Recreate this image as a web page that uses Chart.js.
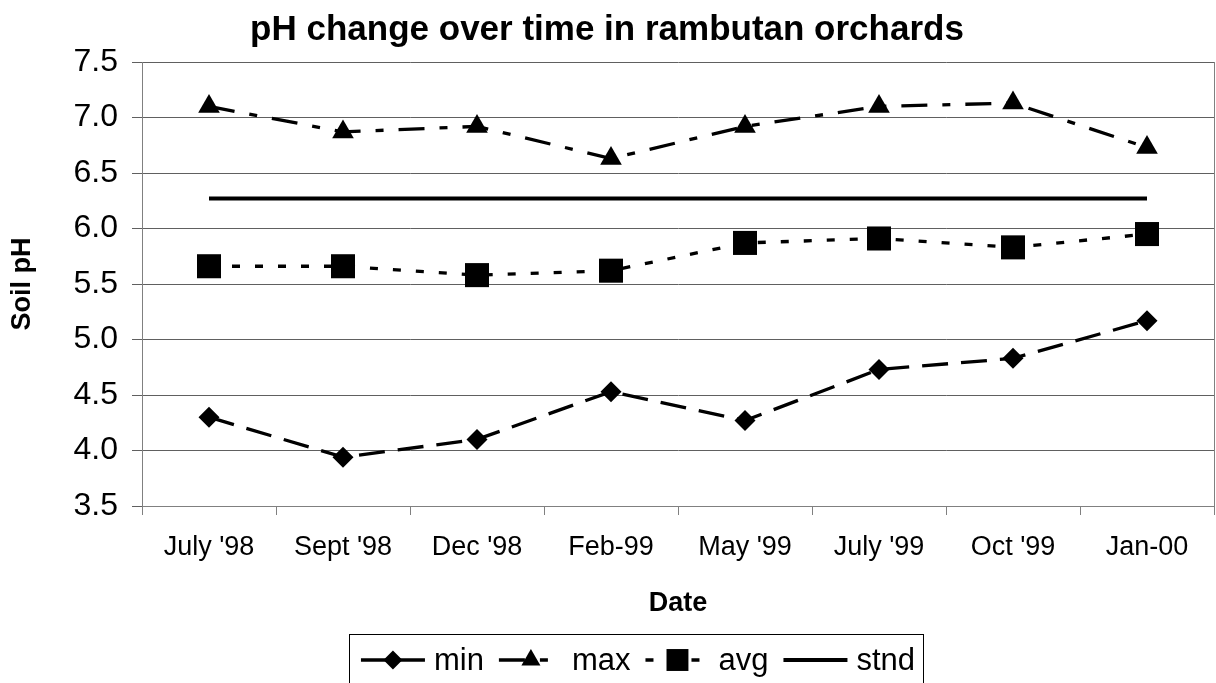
<!DOCTYPE html>
<html>
<head>
<meta charset="utf-8">
<script src="https://cdn.jsdelivr.net/npm/chart.js@4.4.1/dist/chart.umd.min.js"></script>
<style>
  body { margin: 0; background: #fff; }
  canvas { display: block; }
</style>
</head>
<body>
<canvas id="phChart" width="1216" height="683"></canvas>
<script>
var FONT = "Arial, 'Liberation Sans', sans-serif";

var dates = ["July '98", "Sept '98", "Dec '98", "Feb-99", "May '99", "July '99", "Oct '99", "Jan-00"];
var minPH = [4.30, 3.94, 4.10, 4.53, 4.27, 4.73, 4.83, 5.17];
var maxPH = [7.10, 6.87, 6.92, 6.63, 6.92, 7.10, 7.13, 6.73];
var avgPH = [5.66, 5.66, 5.58, 5.62, 5.87, 5.91, 5.83, 5.95];
var stndPH = [6.27, 6.27, 6.27, 6.27, 6.27, 6.27, 6.27, 6.27];
var yMin = 3.5, yMax = 7.5, yStep = 0.5;

// plot frame on the right side (top is the 7.5 grid line)
var frame = {
  id: 'frame',
  afterDraw: function(chart) {
    var a = chart.chartArea, c = chart.ctx;
    c.save();
    c.strokeStyle = '#808080';
    c.lineWidth = 1;
    c.beginPath();
    c.moveTo(a.right + 0.5, a.top);
    c.lineTo(a.right + 0.5, a.bottom);
    c.stroke();
    c.restore();
  }
};

// excel style legend: line sample with marker, boxed, below the axis title
var boxLegend = {
  id: 'boxLegend',
  afterDraw: function(chart) {
    var c = chart.ctx;
    var sets = chart.data.datasets;
    var lineLen = 64, gap = 9, space = 15, padL = 12, padR = 8;
    c.save();
    c.font = '31px ' + FONT;
    var widths = sets.map(function(d) { return c.measureText(d.label).width; });
    var total = padL + padR - space;
    widths.forEach(function(w) { total += lineLen + gap + w + space; });
    var left = chart.width / 2 + 28 - total / 2;
    var top = 634, h = 52, mid = top + 26;
    c.strokeStyle = '#000';
    c.lineWidth = 1;
    c.strokeRect(Math.round(left) + 0.5, top + 0.5, Math.round(total), h);

    var x = left + padL;
    sets.forEach(function(d, i) {
      c.save();
      c.strokeStyle = '#000';
      c.lineWidth = d.borderWidth;
      c.setLineDash(d.borderDash || []);
      c.beginPath();
      c.moveTo(x, mid);
      c.lineTo(x + lineLen, mid);
      c.stroke();
      c.restore();
      if (d.pointRadius > 0) {
        c.fillStyle = '#000';
        Chart.helpers.drawPoint(c, {
          pointStyle: d.pointStyle, rotation: 0, borderWidth: 0, radius: d.legendRadius
        }, x + lineLen / 2, mid);
      }
      c.fillStyle = '#000';
      c.textBaseline = 'middle';
      c.fillText(d.label, x + lineLen + gap, mid + 1);
      x += lineLen + gap + widths[i] + space;
    });
    c.restore();
  }
};

var ctx = document.getElementById('phChart');
var phChart = new Chart(ctx, {
  type: 'line',
  data: {
    labels: dates,
    datasets: [{
      label: 'min',
      data: minPH,
      borderColor: '#000',
      backgroundColor: '#000',
      borderWidth: 3.3,
      borderDash: [26, 13],
      pointStyle: 'rectRot',
      pointRadius: 10.5,
      legendRadius: 9.5,
      pointBorderWidth: 0
    }, {
      label: 'max',
      data: maxPH,
      borderColor: '#000',
      backgroundColor: '#000',
      borderWidth: 3.3,
      borderDash: [26, 15, 8, 15],
      pointStyle: 'triangle',
      pointRadius: 12.5,
      legendRadius: 11,
      pointBorderWidth: 0
    }, {
      label: 'avg',
      data: avgPH,
      borderColor: '#000',
      backgroundColor: '#000',
      borderWidth: 3.3,
      borderDash: [8, 15],
      pointStyle: 'rect',
      pointRadius: 17,
      legendRadius: 15.5,
      pointBorderWidth: 0
    }, {
      label: 'stnd',
      data: stndPH,
      borderColor: '#000',
      backgroundColor: '#000',
      borderWidth: 4,
      pointRadius: 0
    }]
  },
  options: {
    responsive: false,
    animation: false,
    layout: { autoPadding: false, padding: { left: 0, right: 2, top: 0, bottom: 55 } },
    elements: { line: { tension: 0 } },
    plugins: {
      legend: { display: false },
      tooltip: { enabled: false },
      title: {
        display: true,
        text: 'pH change over time in rambutan orchards',
        color: '#000',
        font: { family: FONT, size: 35, weight: 'bold' },
        padding: { top: 9, bottom: 11 }
      }
    },
    scales: {
      x: {
        offset: true,
        grid: { offset: true, drawOnChartArea: false, color: '#808080', tickLength: 9 },
        border: { color: '#808080' },
        ticks: { color: '#000', font: { family: FONT, size: 27 }, padding: 16, maxRotation: 0 },
        title: {
          display: true, text: 'Date', color: '#000',
          font: { family: FONT, size: 27, weight: 'bold' },
          padding: { top: 0, bottom: 8 }
        },
        afterFit: function(scale) {
          scale.height = 122;
          scale.paddingLeft = 0;
          scale.paddingRight = 0;
        }
      },
      y: {
        min: yMin,
        max: yMax,
        grid: { color: '#606060', tickLength: 10 },
        border: { color: '#808080' },
        ticks: {
          stepSize: yStep,
          color: '#000',
          padding: 14,
          font: { family: FONT, size: 32 },
          callback: function(v) { return v.toFixed(1); }
        },
        title: {
          display: true, text: 'Soil pH', color: '#000',
          font: { family: FONT, size: 27, weight: 'bold' },
          padding: { top: 6, bottom: 0 }
        },
        afterFit: function(scale) { scale.width = 142; }
      }
    }
  },
  plugins: [frame, boxLegend]
});
</script>
</body>
</html>
